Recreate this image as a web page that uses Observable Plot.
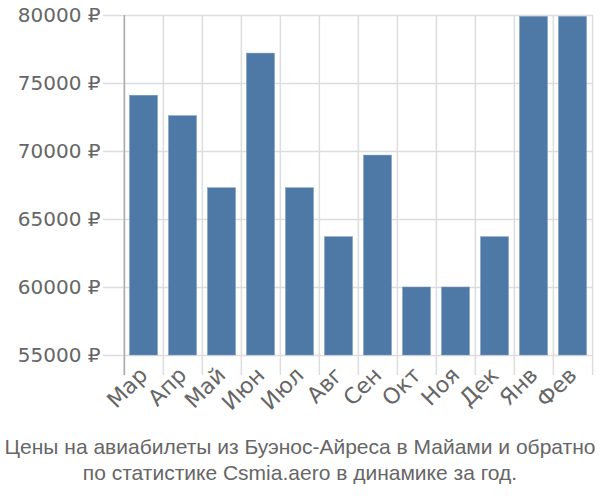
<!DOCTYPE html>
<html>
<head>
<meta charset="utf-8">
<script src="https://cdn.jsdelivr.net/npm/d3@7"></script>
<script src="https://cdn.jsdelivr.net/npm/@observablehq/plot@0.6"></script>
<style>
  body { margin: 0; background: #fff; }
  #chart svg { display: block; }
  .caption { font-family: "Liberation Sans", Arial, sans-serif; font-size: 21px; color: #666; text-align: center; line-height: 26px; padding-top: 9px; white-space: nowrap; }
</style>
</head>
<body>
<div id="chart"></div>
<div class="caption">Цены на авиабилеты из Буэнос-Айреса в Майами и обратно<br>по статистике Csmia.aero в динамике за год.</div>
<script>
const months = ["Мар", "Апр", "Май", "Июн", "Июл", "Авг", "Сен", "Окт", "Ноя", "Дек", "Янв", "Фев"];
const prices = [74100, 72600, 67300, 77200, 67300, 63700, 69700, 60000, 60000, 63700, 79900, 79900];
const yTicks = [55000, 60000, 65000, 70000, 75000, 80000];

const data = months.map((m, i) => ({month: m, price: prices[i]}));

const W = 600, H = 425, mL = 122, mR = 7, mT = 15, mB = 70;
const bw = (W - mL - mR) / months.length;

const chart = Plot.plot({
  width: W,
  height: H,
  marginLeft: mL,
  marginRight: mR,
  marginTop: mT,
  marginBottom: mB,
  style: { fontFamily: "'DejaVu Sans', sans-serif", background: "#fff" },
  x: { domain: months, padding: 0, axis: null, label: null },
  y: { domain: [55000, 80000], axis: null, label: null },
  marks: [
    Plot.ruleY(yTicks, { y: d => d, stroke: "#ddd", strokeWidth: 1.5, insetLeft: -19 }),
    Plot.ruleX(months, { x: d => d, dx: -bw / 2, y1: 80000, y2: 55000, stroke: "#ddd", strokeWidth: 1.5, insetBottom: -20 }),
    Plot.ruleX([months[months.length - 1]], { x: d => d, dx: bw / 2, y1: 80000, y2: 55000, stroke: "#ddd", strokeWidth: 1.5, insetBottom: -20 }),
    Plot.barY(data, { x: "month", y1: 55000, y2: "price", fill: "#4e79a7", stroke: "#7a9cc2", strokeWidth: 0.5, insetLeft: 5.5, insetRight: 5.5 }),
    Plot.ruleX([months[0]], { x: d => d, dx: -bw / 2, y1: 80000, y2: 55000, stroke: "#aaa", strokeWidth: 1.5, insetBottom: -20 }),
    Plot.axisY(yTicks, { tickSize: 0, tickPadding: 22, tickFormat: d => d + " ₽", fontSize: 20, fill: "#666", label: null }),
    Plot.axisX(months, { tickSize: 0, tickPadding: 16, tickRotate: -45, fontSize: 22, fill: "#666", label: null })
  ]
});
document.getElementById("chart").append(chart);
</script>
</body>
</html>
